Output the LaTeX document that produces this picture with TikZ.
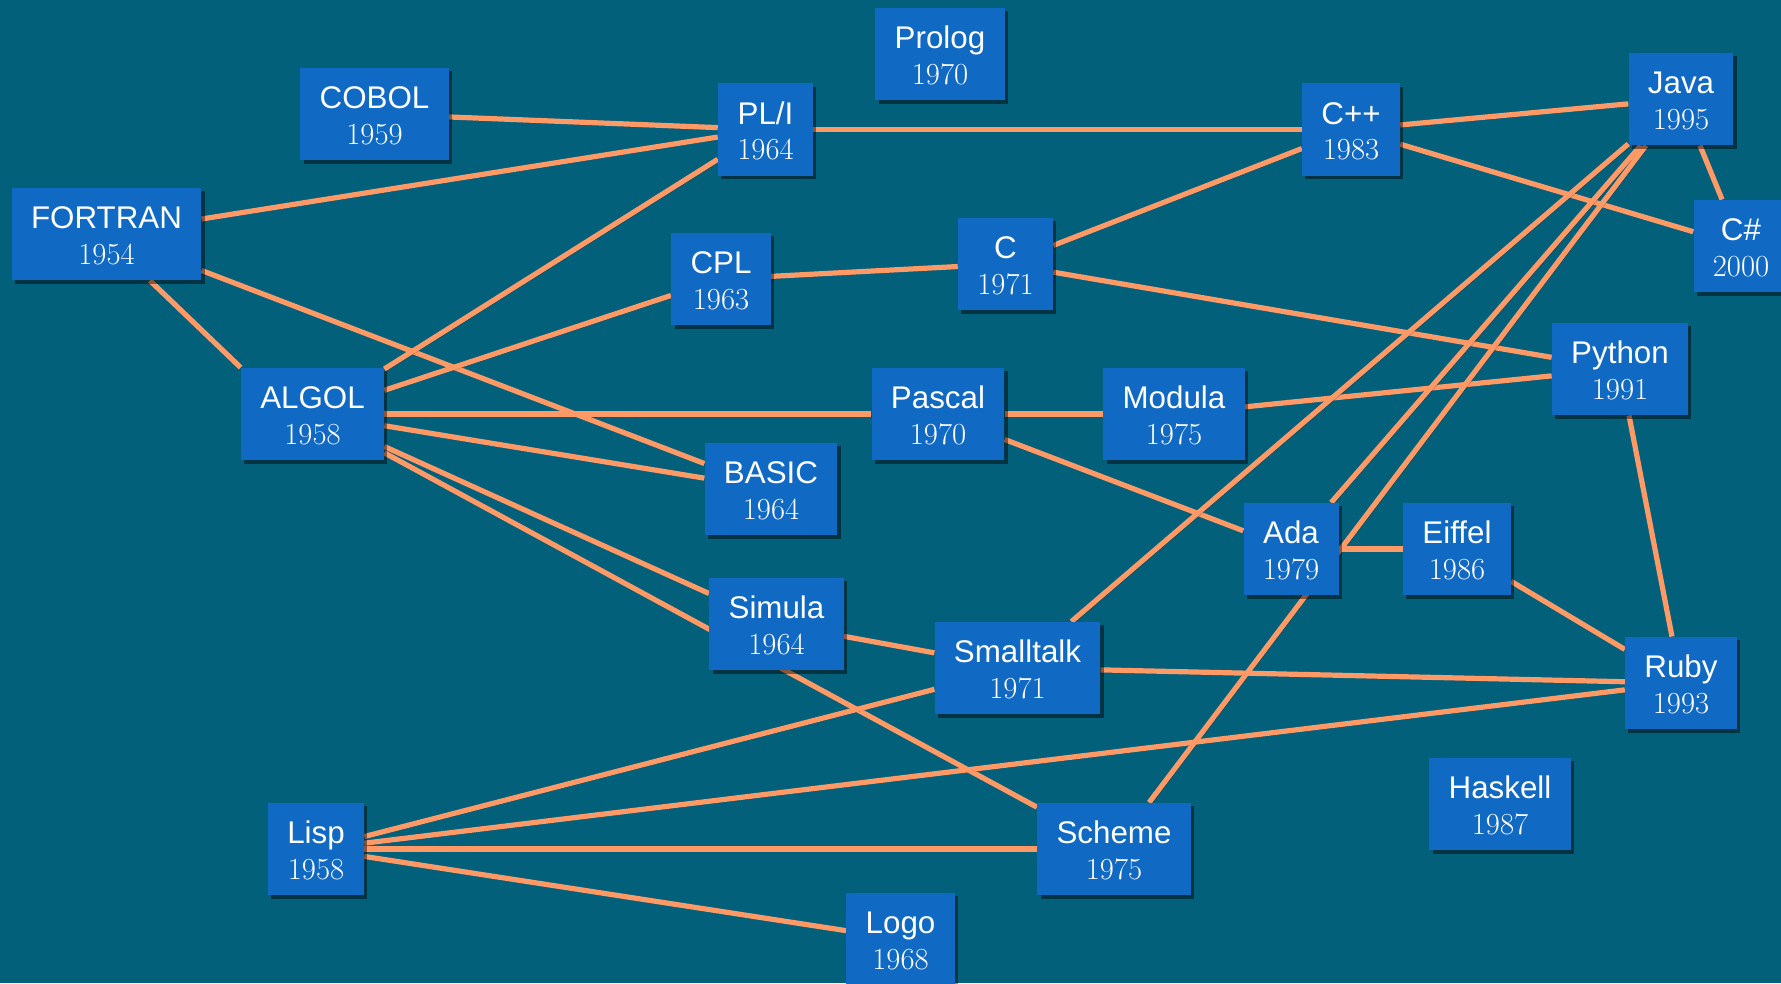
\documentclass[tikz,border=0pt]{standalone}
\usepackage{fontspec}
\newfontfamily\langsans{Liberation Sans}
\usetikzlibrary{shadows}

\definecolor{bgteal}{RGB}{3,96,122}
\definecolor{boxblue}{RGB}{16,106,196}
\definecolor{linkorange}{RGB}{255,153,102}

\pgfdeclarelayer{bg}
\pgfdeclarelayer{links}
\pgfsetlayers{bg,links,main}

\newcommand{\lng}[2]{{\langsans #1}\\{\fontsize{23}{26.75}\selectfont #2}}

\tikzset{every picture/.style={line width=0.75pt}}
\tikzset{
  langbox/.style={fill=boxblue, text=white, align=center, inner xsep=14.5pt, inner ysep=0pt,
    font=\fontsize{23.5}{26.75}\selectfont,
    text height=57.5pt, text depth=11.8pt,
    drop shadow={shadow xshift=2.5pt, shadow yshift=-2.5pt, opacity=0.45, fill=black}},
  link/.style={draw=linkorange, line width=3.9pt,
    preaction={draw=black, opacity=0.35, transform canvas={xshift=1.5pt, yshift=-1.5pt}}}
}

\begin{document}
\begin{tikzpicture}[x=0.75pt,y=0.75pt,yscale=-1,xscale=1]
	\useasboundingbox (0,0) rectangle (1781,983);
	\begin{pgfonlayer}{bg}
	\fill [bgteal] (0,0) rectangle (1781,983);
	\end{pgfonlayer}

	% Languages
	\node [langbox] (fortran) at (106.5,234) {\lng{FORTRAN}{1954}};
	\node [langbox] (cobol) at (374.5,114) {\lng{COBOL}{1959}};
	\node [langbox] (algol) at (312.5,414) {\lng{ALGOL}{1958}};
	\node [langbox] (pli) at (765.5,129.5) {\lng{PL/I}{1964}};
	\node [langbox] (prolog) at (940,54) {\lng{Prolog}{1970}};
	\node [langbox] (cpl) at (721,279) {\lng{CPL}{1963}};
	\node [langbox] (clang) at (1005.5,264) {\lng{C}{1971}};
	\node [langbox] (cpp) at (1351,129.5) {\lng{C++}{1983}};
	\node [langbox] (java) at (1681,99) {\lng{Java}{1995}};
	\node [langbox] (csharp) at (1741,246) {\lng{C\#}{2000}};
	\node [langbox] (python) at (1620,369) {\lng{Python}{1991}};
	\node [langbox] (pascal) at (938,414) {\lng{Pascal}{1970}};
	\node [langbox] (modula) at (1174,414) {\lng{Modula}{1975}};
	\node [langbox] (basic) at (771,489) {\lng{BASIC}{1964}};
	\node [langbox] (ada) at (1291,549) {\lng{Ada}{1979}};
	\node [langbox] (eiffel) at (1457,549) {\lng{Eiffel}{1986}};
	\node [langbox] (simula) at (776.5,624) {\lng{Simula}{1964}};
	\node [langbox] (smalltalk) at (1017.5,668) {\lng{Smalltalk}{1971}};
	\node [langbox] (ruby) at (1681,683) {\lng{Ruby}{1993}};
	\node [langbox] (haskell) at (1500,804) {\lng{Haskell}{1987}};
	\node [langbox] (lisp) at (316,849) {\lng{Lisp}{1958}};
	\node [langbox] (scheme) at (1114,849) {\lng{Scheme}{1975}};
	\node [langbox] (logo) at (900.5,939) {\lng{Logo}{1968}};

	% Influences
	\begin{pgfonlayer}{links}
	\draw [link] (cobol) -- (pli);
	\draw [link] (fortran) -- (pli);
	\draw [link] (pli) -- (cpp);
	\draw [link] (cpp) -- (java);
	\draw [link] (cpp) -- (csharp);
	\draw [link] (java) -- (csharp);
	\draw [link] (fortran.-47) -- (algol.north west);
	\draw [link] (fortran) -- (basic);
	\draw [link] (algol) -- (pli);
	\draw [link] (algol) -- (cpl);
	\draw [link] (cpl) -- (clang);
	\draw [link] (clang) -- (cpp);
	\draw [link] (clang) -- (python);
	\draw [link] (algol) -- (pascal);
	\draw [link] (pascal) -- (modula);
	\draw [link] (modula) -- (python);
	\draw [link] (algol) -- (basic);
	\draw [link] (algol) -- (simula);
	\draw [link] (algol) -- (scheme);
	\draw [link] (pascal) -- (ada);
	\draw [link] (ada) -- (java);
	\draw [link] (scheme) -- (java);
	\draw [link] (smalltalk) -- (java);
	\draw [link] (ada) -- (eiffel);
	\draw [link] (eiffel) -- (ruby);
	\draw [link] (python) -- (ruby);
	\draw [link] (simula) -- (smalltalk);
	\draw [link] (smalltalk) -- (ruby);
	\draw [link] (lisp) -- (smalltalk);
	\draw [link] (lisp) -- (ruby);
	\draw [link] (lisp) -- (scheme);
	\draw [link] (lisp) -- (logo);
	\end{pgfonlayer}

\end{tikzpicture}
\end{document}
